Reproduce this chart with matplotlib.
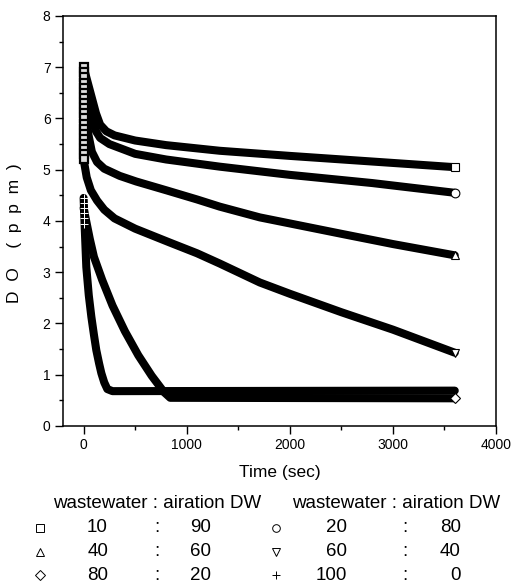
"""DO decay curves for wastewater / aeration-DW mixtures (recreated figure)."""
import matplotlib

matplotlib.use("Agg")
import matplotlib.pyplot as plt  # noqa: E402

plt.rcParams["font.family"] = ["Liberation Sans", "DejaVu Sans"]

# Values (time in sec, DO in ppm).
t_sq = [0, 40, 80, 120, 160, 220, 300, 500, 800, 1320, 2000, 2800, 3600]
do_sq = [7.0, 6.7, 6.4, 6.1, 5.88, 5.75, 5.67, 5.57, 5.48, 5.37, 5.27, 5.16, 5.05]

t_ci = [0, 40, 80, 120, 160, 250, 500, 800, 1320, 2000, 2800, 3600]
do_ci = [7.0, 6.5, 6.0, 5.75, 5.62, 5.5, 5.31, 5.2, 5.06, 4.9, 4.74, 4.55]

t_tri = [0, 20, 45, 80, 130, 200, 350, 511, 800, 1100, 1320, 1709, 2500, 3000, 3600]
do_tri = [7.0, 6.3, 5.7, 5.35, 5.15, 5.02, 4.88, 4.77, 4.6, 4.42, 4.28, 4.07,
          3.75, 3.55, 3.33]

t_dtri = [0, 30, 70, 130, 200, 300, 500, 835, 1100, 1320, 1709, 2000, 2500,
          3000, 3600]
do_dtri = [5.2, 4.85, 4.6, 4.4, 4.22, 4.05, 3.85, 3.58, 3.37, 3.17, 2.8, 2.58,
           2.22, 1.88, 1.43]

t_dia = [0, 30, 60, 100, 180, 280, 400, 530, 660, 780, 840, 3600]
do_dia = [4.25, 3.95, 3.65, 3.3, 2.85, 2.35, 1.85, 1.38, 0.98, 0.66, 0.55, 0.54]

t_plus = [0, 10, 26, 50, 75, 100, 123, 150, 172, 200, 230, 280, 3600]
do_plus = [4.45, 3.9, 3.1, 2.55, 2.13, 1.78, 1.48, 1.22, 1.03, 0.85, 0.72, 0.68,
           0.69]

# the first readings stack up at t = 0
start_sq = [7.0, 6.9, 6.8, 6.7, 6.6, 6.5, 6.4, 6.3, 6.2, 6.1, 6.0, 5.9,
            5.8, 5.7, 5.6, 5.5, 5.4, 5.3, 5.2]
start_plus = [4.45, 4.35, 4.25, 4.15, 4.05, 3.95]

series = [
    (t_sq, do_sq, "s"),
    (t_ci, do_ci, "o"),
    (t_tri, do_tri, "^"),
    (t_dtri, do_dtri, "v"),
    (t_dia, do_dia, "D"),
    (t_plus, do_plus, "+"),
]

legend_markers = ["s", "o", "^", "v", "D", "+"]
legend_ww = ["10", "20", "40", "60", "80", "100"]
legend_dw = ["90", "80", "60", "40", "20", "0"]


def main() -> None:
    fig = plt.figure(figsize=(5.22, 5.83), dpi=100)
    ax = fig.add_axes([0.1207, 0.2693, 0.8295, 0.7033])

    for t, do, mk in series:
        ax.plot(t, do, color="black", lw=5.8, solid_capstyle="round",
                solid_joinstyle="round", zorder=2)
    ax.plot([0] * len(start_sq), start_sq, ls="none", marker="s", ms=6,
            mfc="#dddddd", mec="black", mew=1.6, zorder=3)
    ax.plot([0] * len(start_plus), start_plus, ls="none", marker="+", ms=6,
            mec="white", mew=0.7, zorder=3)
    for t, do, mk in series:
        if mk == "+":
            continue
        ax.plot(t[-1], do[-1], ls="none", marker=mk,
                ms=6.3 if mk != "D" else 5.2, mfc="white", mec="black",
                mew=0.8, zorder=4)

    ax.set_xlim(-200, 4000)
    ax.set_ylim(0, 8)
    ax.set_xticks([0, 1000, 2000, 3000, 4000])
    ax.set_xticks([500, 1500, 2500, 3500], minor=True)
    ax.set_yticks(range(0, 9))
    ax.set_yticks([0.5 + i for i in range(8)], minor=True)
    ax.tick_params(which="major", direction="out", length=5.5, width=1.0,
                   labelsize=10, top=False, right=False)
    ax.tick_params(which="minor", direction="out", length=3, width=1.0,
                   top=False, right=False)
    for sp in ax.spines.values():
        sp.set_linewidth(1.1)

    ax.set_xlabel("Time (sec)", fontsize=12.5, labelpad=9)
    ax.set_ylabel("D  O    (  p  p  m  )", fontsize=12.5)
    ax.yaxis.set_label_coords(-0.095, 0.47)

    # legend table under the plot, in figure pixels
    def fx(px):
        return px / 522

    def fy(py):
        return 1 - py / 583

    fs = 13.5
    fig.text(fx(53), fy(503), "wastewater : airation DW", fontsize=fs,
             ha="left", va="center")
    fig.text(fx(292), fy(503), "wastewater : airation DW", fontsize=fs,
             ha="left", va="center")
    rows_y = [528, 552, 575]
    cols = [(40, 108, 157, 211), (276, 347, 405, 461)]
    for i, (mk, ww, dw) in enumerate(zip(legend_markers, legend_ww, legend_dw)):
        mx, wx, cx, dx = cols[i % 2]
        y = rows_y[i // 2]
        fig.lines.append(plt.Line2D([fx(mx)], [fy(y)], transform=fig.transFigure,
                                    ls="none", marker=mk,
                                    ms=5.5 if mk != "D" else 5,
                                    mfc="white", mec="black", mew=0.7))
        fig.text(fx(wx), fy(y), ww, fontsize=fs, ha="right", va="center")
        fig.text(fx(cx), fy(y), ":", fontsize=fs, ha="center", va="center")
        fig.text(fx(dx), fy(y), dw, fontsize=fs, ha="right", va="center")

    fig.savefig("out.png", dpi=100)


if __name__ == "__main__":
    main()
